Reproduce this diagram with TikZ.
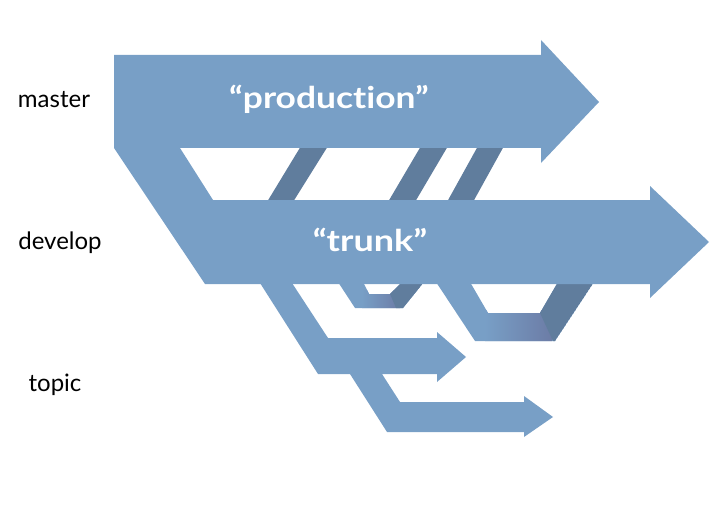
\documentclass[tikz,border=0pt]{standalone}
\usepackage{fontspec}
\setmainfont{Lato}[Ligatures={NoCommon}]
\definecolor{lightb}{RGB}{120,159,198}
\definecolor{darkb}{RGB}{96,125,157}
\definecolor{purpb}{RGB}{108,124,166}
\tikzset{
  flow/.style={fill=lightb, draw=none},
  merge/.style={fill=darkb, draw=none},
  branchlabel/.style={text=black, font=\fontsize{24}{28}\selectfont, inner sep=0pt},
  namelabel/.style={text=white, font=\bfseries\fontsize{30}{34}\selectfont, inner sep=0pt}
}
\begin{document}
\begin{tikzpicture}[x=1pt,y=-1pt]
\useasboundingbox (0,0) rectangle (720,524);
% merges develop -> master (behind)
\fill[merge] (267,202) -- (293,202) -- (328,146) -- (301,146) -- cycle;
\fill[merge] (388,202) -- (415,202) -- (448,146) -- (421,146) -- cycle;
\fill[merge] (447,202) -- (473,202) -- (504,146) -- (478,146) -- cycle;
% topic -> develop merge 1
\fill[lightb] (338,282) -- (355,308) -- (403,308) -- (424,282) -- (402,282) -- (390,294) -- (369,294) -- (363,282) -- cycle;
\begin{scope}
  \clip (338,282) -- (355,308) -- (403,308) -- (424,282) -- (402,282) -- (390,294) -- (369,294) -- (363,282) -- cycle;
  \shade[left color=lightb, right color=purpb] (362,290) rectangle (400,310);
  \fill[darkb] (390,294) -- (402,282) -- (424,282) -- (404,308) -- (396,308) -- cycle;
\end{scope}
% topic -> develop merge 2
\fill[lightb] (436,282) -- (475,341) -- (555,341) -- (594,282) -- (558,282) -- (540,313) -- (488,313) -- (470,282) -- cycle;
\begin{scope}
  \clip (436,282) -- (475,341) -- (555,341) -- (594,282) -- (558,282) -- (540,313) -- (488,313) -- (470,282) -- cycle;
  \shade[left color=lightb, right color=purpb] (485,310) rectangle (552,345);
  \fill[darkb] (540,313) -- (558,282) -- (594,282) -- (555,341) -- (553,341) -- cycle;
\end{scope}
% master + develop
\fill[flow] (114,55) -- (541,55) -- (541,40) -- (599,102) -- (541,163) -- (541,148)
  -- (180,148) -- (213,200) -- (650,200) -- (650,186) -- (709,242) -- (650,298)
  -- (650,284) -- (205,284) -- (114,148) -- cycle;
% topic branches
\fill[flow] (260,283) -- (292,283) -- (328,338) -- (437,338) -- (437,332) -- (466,357)
  -- (437,382) -- (437,374) -- (382,374) -- (400,402) -- (524,402) -- (524,396)
  -- (553,417) -- (524,437) -- (524,432) -- (387,432) -- (350,374) -- (318,374) -- cycle;
% labels
\node[namelabel] (prod) at (329,99) {\scalebox{1.18}[1]{“production”}};
\node[namelabel] (trunk) at (370,240) {\scalebox{1.2}[1]{“trunk”}};
\node[branchlabel] (master) at (54,100) {master};
\node[branchlabel] (develop) at (60,243) {develop};
\node[branchlabel] (topic) at (55,385) {topic};
\end{tikzpicture}
\end{document}
